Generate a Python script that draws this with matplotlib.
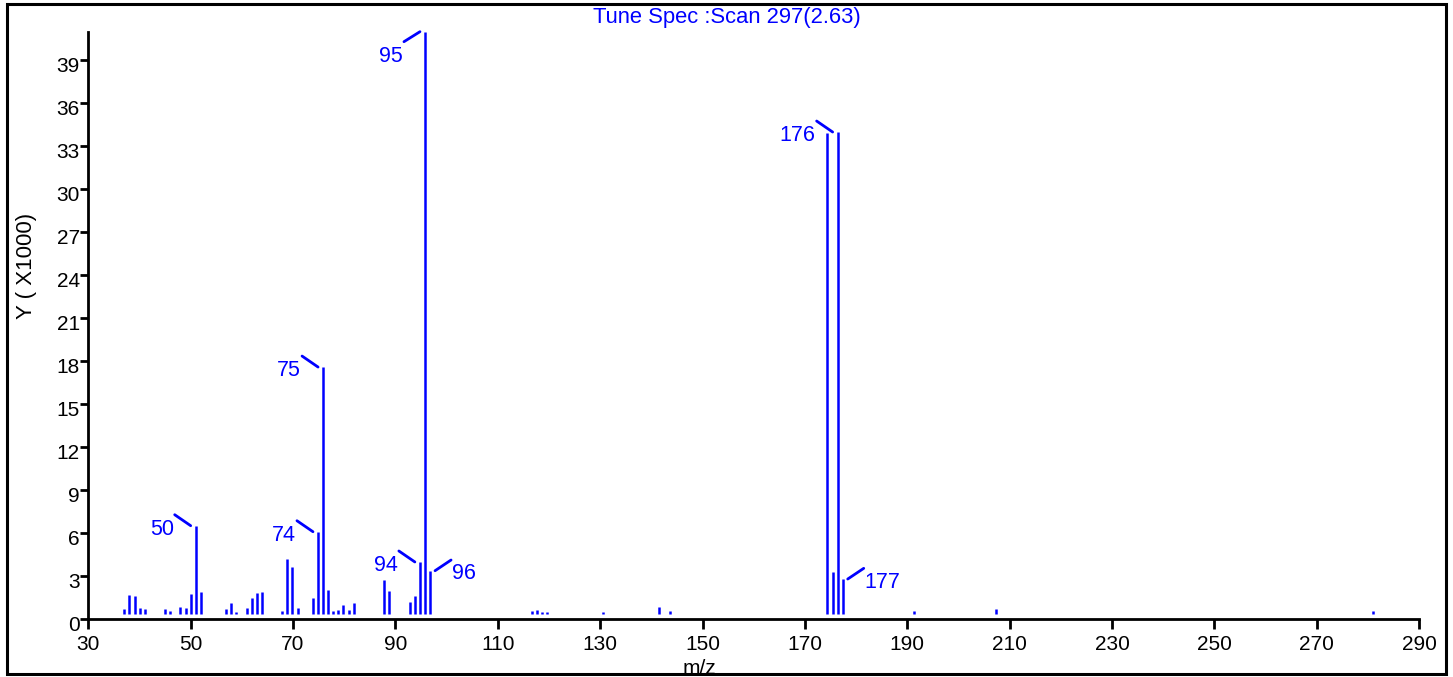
import numpy as np
import matplotlib
matplotlib.use('Agg')
import matplotlib.pyplot as plt
from matplotlib.patches import Rectangle
from matplotlib.transforms import offset_copy, ScaledTranslation

# centroided peaks of the tune scan (nominal m/z, counts x1000)
mz = [36, 37, 38, 39, 40, 44, 45, 47, 48, 49, 50, 51,
      56, 57, 58, 60, 61, 62, 63, 67, 68, 69, 70,
      73, 74, 75, 76, 77, 78, 79, 80, 81, 87, 88,
      92, 93, 94, 95, 96, 116, 117, 118, 119, 130, 141, 143,
      174, 175, 176, 177, 191, 207, 281]
counts = [0.70, 1.70, 1.60, 0.77, 0.72, 0.72, 0.58, 0.86, 0.77, 1.74, 6.53, 1.88,
          0.74, 1.14, 0.53, 0.81, 1.51, 1.81, 1.88, 0.60, 4.21, 3.63, 0.77,
          1.47, 6.11, 17.6, 2.07, 0.58, 0.65, 1.00, 0.65, 1.16, 2.74, 2.00,
          1.19, 1.63, 4.00, 41.0, 3.39, 0.60, 0.65, 0.53, 0.53, 0.51, 0.88, 0.60,
          33.9, 3.28, 34.0, 2.81, 0.60, 0.70, 0.60]

# peaks that get an m/z tag, and which side the tag sits on
tagged = [50, 74, 75, 94, 95, 96, 176, 177]
tag_side = ['left', 'left', 'left', 'left', 'below', 'right', 'left', 'right']

x_ticks = list(range(30, 291, 20))
y_ticks = list(range(0, 40, 3))

# scan axis scale vs. assigned mass (slight calibration drift)
CAL_GAIN, CAL_OFFSET = 0.9953, 1.215


def mass_at(scale_val):
    return (scale_val - CAL_OFFSET) / CAL_GAIN


BLUE = '#0000ff'
plt.rcParams['font.family'] = ['Liberation Sans', 'DejaVu Sans']

W, H = 1453, 677
fig = plt.figure(figsize=(W / 100, H / 100), dpi=100)
ax = fig.add_axes([88.3 / W, 1 - 619.3 / H, (1419.2 - 88.3) / W, (619.3 - 31.7) / H])

baseline = 0.4
ax.vlines(mz, baseline, counts, color=BLUE, lw=1.8)

ax.set_xlim(mass_at(30), mass_at(290))
ax.set_ylim(0, max(counts))
ax.set_xticks([mass_at(t) for t in x_ticks], [str(t) for t in x_ticks])
ax.set_yticks(y_ticks, [str(t) for t in y_ticks])

for s in ['top', 'right']:
    ax.spines[s].set_visible(False)
for s in ['left', 'bottom']:
    ax.spines[s].set_linewidth(2.0)
ax.tick_params(axis='x', length=7.2, width=2.0, pad=4, labelsize=15)
ax.tick_params(axis='y', length=5.8, width=2.0, pad=0.3, labelsize=15)
shift = ScaledTranslation(0, -4.5 / 100, fig.dpi_scale_trans)
for lbl in ax.get_yticklabels():
    lbl.set_transform(lbl.get_transform() + shift)

# m/z tags with short leader lines
for m, side in zip(tagged, tag_side):
    h = counts[mz.index(m)]
    if side == 'left':
        tip, lead, txt, ha = -5, (-16, 11), (-22, -9), 'right'
    elif side == 'right':
        tip, lead, txt, ha = 5, (16, 10.7), (22, -8.5), 'left'
    else:
        tip, lead, txt, ha = -5, (-16, -10), (-22, -30), 'right'
    start = offset_copy(ax.transData, fig=fig, x=tip, y=0, units='dots')
    ax.annotate('', xy=(m, h), xycoords=start, xytext=lead, textcoords='offset pixels',
                arrowprops=dict(arrowstyle='-', color=BLUE, lw=2.0, shrinkA=0, shrinkB=0),
                annotation_clip=False)
    ax.annotate(str(m), xy=(m, h), xytext=txt, textcoords='offset pixels',
                ha=ha, va='baseline', color=BLUE, fontsize=15.5, annotation_clip=False)

fig.text(0.5, 1 - 18 / H, 'Tune Spec :Scan 297(2.63)', ha='center', va='center',
         color=BLUE, fontsize=15.8)
fig.text(27 / W, 1 - 266 / H, 'Y ( X1000)', rotation=90, ha='center', va='center', fontsize=16)
fig.text(699 / W, 1 - 668 / H, 'm/z', ha='center', va='center', fontsize=15)

# outer frame
fig.add_artist(Rectangle((7 / W, 1 - 674 / H), (1446 - 7) / W, (674 - 4) / H,
                         transform=fig.transFigure, fill=False, lw=2.2, ec='black', zorder=10))

fig.savefig('out.png', dpi=100)
